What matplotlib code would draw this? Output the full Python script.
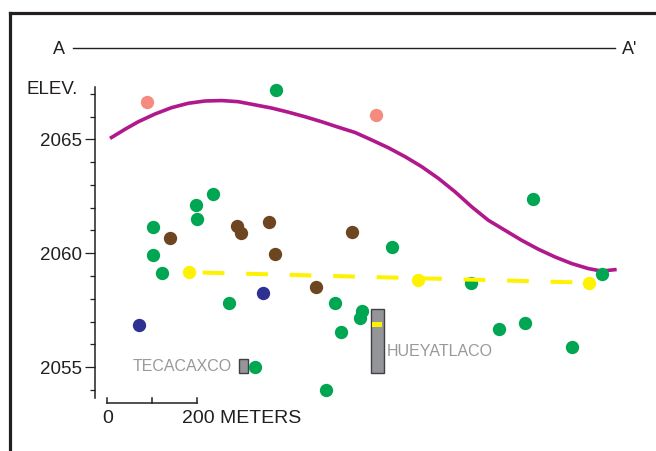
import matplotlib
matplotlib.use("Agg")
import matplotlib.pyplot as plt
from matplotlib.patches import Rectangle
from matplotlib.ticker import MultipleLocator, FixedLocator

plt.rcParams['font.family'] = ['Liberation Sans', 'DejaVu Sans']

# ---- data (distance along section in meters, elevation in m) ----
green_x = [375.6, 102.2, 103.6, 122.2, 198.4, 200.0, 235.6, 272.4, 329.6, 488.0,
           948.0, 633.3, 507.3, 566.7, 562.9, 520.0, 809.6, 871.8, 929.6, 1033.3, 1101.3]
green_y = [2067.16, 2061.14, 2059.93, 2059.12, 2062.12, 2061.49, 2062.59, 2057.81, 2055.0, 2054.0,
           2062.38, 2060.26, 2057.81, 2057.47, 2057.15, 2056.54, 2058.71, 2056.68, 2056.96, 2055.88, 2059.08]

brown_x = [140.7, 288.9, 297.8, 360.7, 373.3, 464.4, 545.8]
brown_y = [2060.66, 2061.20, 2060.90, 2061.39, 2059.98, 2058.54, 2060.92]

navy_x = [72.4, 348.0]
navy_y = [2056.86, 2058.25]

salmon_x = [88.9, 597.8]
salmon_y = [2066.62, 2066.08]

yellow_x = [182.9, 691.1, 1072.4]
yellow_y = [2059.17, 2058.83, 2058.71]

curve_x = [7.3, 40.7, 70.2, 107.3, 144.4, 181.3, 218.4, 255.6, 292.4, 329.6, 366.7,
           403.6, 440.7, 477.8, 514.7, 551.8, 588.9, 625.8, 662.9, 700.0, 736.9,
           774.0, 811.1, 848.0, 885.1, 922.2, 959.1, 996.2, 1033.3, 1070.2, 1100.0, 1133.3]
curve_y = [2065.04, 2065.44, 2065.77, 2066.11, 2066.39, 2066.58, 2066.68, 2066.70, 2066.65,
           2066.51, 2066.37, 2066.19, 2065.99, 2065.77, 2065.53, 2065.30, 2064.97, 2064.63,
           2064.24, 2063.80, 2063.29, 2062.70, 2062.04, 2061.45, 2061.01, 2060.57, 2060.18,
           2059.84, 2059.55, 2059.33, 2059.22, 2059.29]

# site columns: name, x-left, x-right, top, bottom
sites = ["TECACAXCO", "HUEYATLACO"]
site_x0 = [294.0, 587.3]
site_x1 = [314.0, 615.6]
site_top = [2055.37, 2057.56]
site_bot = [2054.76, 2054.76]
hueyatlaco_band = [2057.00, 2056.78]

yticks_major = [2055, 2060, 2065]
scale_ticks = [0, 100, 200]

GREEN = '#00A651'
BROWN = '#6D4520'
NAVY = '#2E3192'
SALMON = '#F58A7E'
YELLOW = '#FFF200'
MAGENTA = '#B0188C'
GRAY = '#939598'
INK = '#231F20'

W, H = 656, 451
fig = plt.figure(figsize=(W / 100, H / 100), dpi=100)
fig.patch.set_facecolor('white')

# outer frame (open at right and bottom)
fig.add_artist(plt.Line2D([9.5 / W, 9.5 / W], [0, 1 - 13.3 / H], color=INK, lw=2.3,
                          transform=fig.transFigure, solid_capstyle='projecting'))
fig.add_artist(plt.Line2D([9.5 / W, 1.0], [1 - 13.3 / H, 1 - 13.3 / H], color=INK, lw=2.3,
                          transform=fig.transFigure, solid_capstyle='projecting'))

# A - A' line
fig.add_artist(plt.Line2D([73 / W, 615 / W], [1 - 48 / H, 1 - 48 / H], color=INK, lw=1.0,
                          transform=fig.transFigure))
fig.text(58.5 / W, 1 - 49 / H, "A", ha='center', va='center', fontsize=13, color=INK)
fig.text(622 / W, 1 - 49 / H, "A'", ha='left', va='center', fontsize=13, color=INK)

ax = fig.add_axes([95 / W, 53 / H, (W - 95) / W, 311 / H])
ax.set_xlim(-26, 1220.7)
ax.set_ylim(2053.653, 2067.294)
ax.patch.set_alpha(0)
for s in ['top', 'right', 'bottom']:
    ax.spines[s].set_visible(False)
ax.spines['left'].set_linewidth(1.1)
ax.spines['left'].set_color(INK)
ax.set_xticks([])
ax.yaxis.set_major_locator(FixedLocator(yticks_major))
ax.yaxis.set_minor_locator(MultipleLocator(1))
ax.tick_params(axis='y', which='major', length=7.2, width=0.9, color=INK, pad=2,
               labelsize=13.5, labelcolor=INK)
ax.tick_params(axis='y', which='minor', length=3.6, width=0.9, color=INK)

fig.text(27 / W, 1 - 90 / H, "ELEV.", ha='left', va='center', fontsize=13.5, color=INK)

# curve
ax.plot(curve_x, curve_y, color=MAGENTA, lw=2.6, solid_capstyle='butt',
        solid_joinstyle='round', clip_on=False, zorder=2)

ms = 92
ax.scatter(salmon_x, salmon_y, s=ms, color=SALMON, linewidths=0, zorder=3, clip_on=False)
ax.scatter(brown_x, brown_y, s=ms, color=BROWN, linewidths=0, zorder=3, clip_on=False)
ax.scatter(navy_x, navy_y, s=ms, color=NAVY, linewidths=0, zorder=3, clip_on=False)
ax.scatter(yellow_x, yellow_y, s=ms, color=YELLOW, linewidths=0, zorder=4, clip_on=False)
ax.scatter(green_x, green_y, s=ms, color=GREEN, linewidths=0, zorder=5, clip_on=False)

# yellow dashed trend
ax.plot([yellow_x[0], yellow_x[-1]], [yellow_y[0], yellow_y[-1]], color=YELLOW, lw=2.9,
        linestyle=(7.4, (5.4, 5.4)), solid_capstyle='butt', dash_capstyle='butt',
        zorder=6, clip_on=False)

# site columns
for i, name in enumerate(sites):
    ax.add_patch(Rectangle((site_x0[i], site_bot[i]), site_x1[i] - site_x0[i],
                           site_top[i] - site_bot[i], facecolor=GRAY, edgecolor='#414042',
                           lw=1.0, zorder=4, clip_on=False))
ax.add_patch(Rectangle((site_x0[1] + 3, hueyatlaco_band[1]), site_x1[1] - site_x0[1] - 6,
                       hueyatlaco_band[0] - hueyatlaco_band[1], facecolor=YELLOW,
                       edgecolor='none', zorder=4.5, clip_on=False))
ax.text(279, 2055.05, sites[0], ha='right', va='center', fontsize=11.5, color='#999999')
ax.text(623, 2055.68, sites[1], ha='left', va='center', fontsize=11.5, color='#999999')

# scale bar
sb_y = 2053.45
ax.plot([scale_ticks[0], scale_ticks[-1]], [sb_y, sb_y], color=INK, lw=1.1, clip_on=False)
for t in scale_ticks:
    ax.plot([t, t], [sb_y, sb_y + 0.22], color=INK, lw=1.1, clip_on=False)
ax.text(3, 2052.75, "0", ha='center', va='center', fontsize=14, color=INK)
ax.text(168, 2052.75, "200 METERS", ha='left', va='center', fontsize=14, color=INK)

fig.savefig("out.png", dpi=100)
